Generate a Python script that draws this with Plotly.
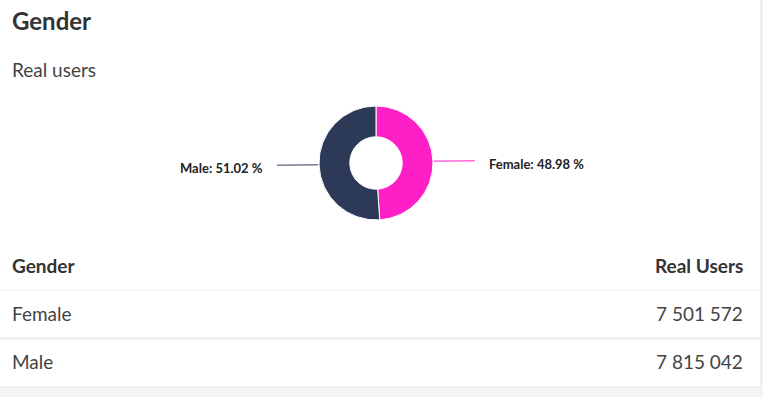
import math
import plotly.graph_objects as go

# ---- data ----
genders = ["Female", "Male"]
real_users = [7501572, 7815042]
colors = ["#FF1FC6", "#2C3A57"]
title_text = "Gender"
subtitle_text = "Real users"
col_headers = ["Gender", "Real Users"]

W, H = 763, 397
FONT = "Lato, 'Open Sans', sans-serif"

def px(x):
    return x / W

def py(y):
    return 1 - y / H

def fmt(n):
    return f"{n:,}".replace(",", " ")

total = sum(real_users)
pcts = [v / total * 100 for v in real_users]

# pie geometry (pixels)
cx, cy, r = 376, 163, 57

fig = go.Figure()
fig.add_trace(go.Pie(
    labels=genders, values=real_users, hole=0.46, sort=False,
    direction="clockwise", rotation=0,
    marker=dict(colors=colors, line=dict(color="#ffffff", width=1)),
    textinfo="none", showlegend=False, hoverinfo="label+percent",
    domain=dict(x=[px(cx - r), px(cx + r)], y=[py(cy + r), py(cy - r)]),
))

shapes = []
annotations = []

# card
shapes.append(dict(type="rect", xref="paper", yref="paper",
                   x0=px(-2), x1=px(761), y0=py(387), y1=py(-2),
                   fillcolor="#ffffff", line=dict(color="#e6e6e6", width=1),
                   layer="below"))

# leader lines + labels computed from slice mid-angles
cum = 0
for g, v, p, c in zip(genders, real_users, pcts, colors):
    mid = (cum + v / 2) / total * 2 * math.pi
    cum += v
    sx, sy = math.sin(mid), -math.cos(mid)
    x0 = cx + (r + 1) * sx
    y0 = cy + (r + 1) * sy
    side = 1 if sx >= 0 else -1
    x1 = x0 + 41 * side
    y1 = y0 + 0.3 * side * -1
    shapes.append(dict(type="line", xref="paper", yref="paper",
                       x0=px(x0), y0=py(y0), x1=px(x1), y1=py(y1),
                       line=dict(color=c, width=1)))
    annotations.append(dict(
        xref="paper", yref="paper", x=px(x1 + 12 * side), y=py(y1 + 3),
        text=f"<b>{g}: {p:.2f} %</b>", showarrow=False,
        xanchor="left" if side > 0 else "right", yanchor="middle",
        font=dict(family=FONT, size=13, color="#222222")))

# title + subtitle
annotations.append(dict(xref="paper", yref="paper", x=px(10), y=py(21),
                        text=f"<b>{title_text}</b>", showarrow=False,
                        xanchor="left", yanchor="middle",
                        font=dict(family=FONT, size=24, color="#333333")))
annotations.append(dict(xref="paper", yref="paper", x=px(10), y=py(69),
                        text=subtitle_text, showarrow=False,
                        xanchor="left", yanchor="middle",
                        font=dict(family=FONT, size=19, color="#444444")))

# table header
annotations.append(dict(xref="paper", yref="paper", x=px(10), y=py(265),
                        text=f"<b>{col_headers[0]}</b>", showarrow=False,
                        xanchor="left", yanchor="middle",
                        font=dict(family=FONT, size=19, color="#333333")))
annotations.append(dict(xref="paper", yref="paper", x=px(745), y=py(265),
                        text=f"<b>{col_headers[1]}</b>", showarrow=False,
                        xanchor="right", yanchor="middle",
                        font=dict(family=FONT, size=19, color="#333333")))

row_y = [313, 361]
for g, v, ry in zip(genders, real_users, row_y):
    annotations.append(dict(xref="paper", yref="paper", x=px(10), y=py(ry),
                            text=g, showarrow=False, xanchor="left", yanchor="middle",
                            font=dict(family=FONT, size=19, color="#444444")))
    annotations.append(dict(xref="paper", yref="paper", x=px(745), y=py(ry),
                            text=fmt(v), showarrow=False, xanchor="right", yanchor="middle",
                            font=dict(family=FONT, size=19, color="#444444")))

# separators
for yy, wdt in [(290, 1), (338.5, 2)]:
    shapes.append(dict(type="line", xref="paper", yref="paper",
                       x0=0, x1=px(760), y0=py(yy), y1=py(yy),
                       line=dict(color="#ebebeb", width=wdt)))

fig.update_layout(
    width=W, height=H, margin=dict(l=0, r=0, t=0, b=0),
    paper_bgcolor="#f4f4f4", plot_bgcolor="#ffffff",
    shapes=shapes, annotations=annotations,
    font=dict(family=FONT),
)

fig.write_html("out.html", config={"displayModeBar": False})
